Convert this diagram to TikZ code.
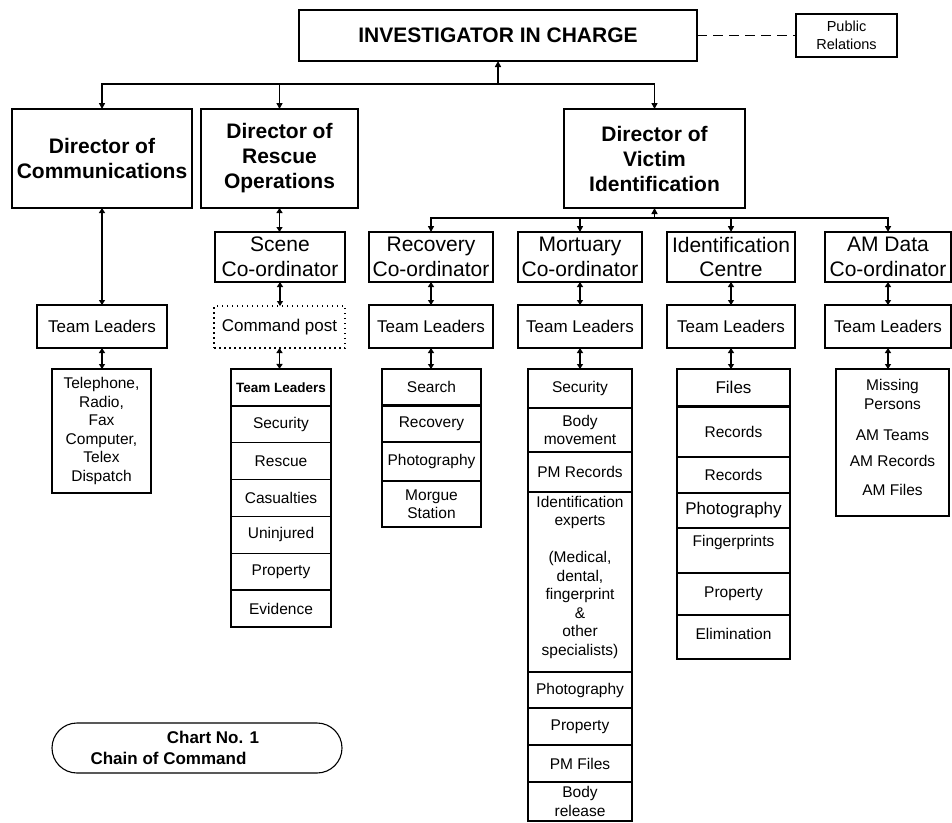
\documentclass[tikz,border=0pt]{standalone}
\usepackage{fontspec}
\setmainfont{Liberation Sans}
\usetikzlibrary{arrows.meta}
\tikzset{
 box/.style={draw,line width=1.5pt},
 sz/.style 2 args={minimum width=#1pt,minimum height=#2pt},
 fdir/.style={font=\fontsize{21}{25}\selectfont\bfseries},
 fco/.style={font=\fontsize{21}{24.5}\selectfont},
 ftl/.style={font=\fontsize{17}{20}\selectfont},
 flist/.style={font=\fontsize{15.5}{18.5}\selectfont},
 arr/.style={line width=1.5pt,-{Triangle[length=6pt,width=6pt]}},
 dbl/.style={line width=1.5pt,{Triangle[length=5pt,width=6pt]}-{Triangle[length=5pt,width=6pt]}},
}
\begin{document}
\begin{tikzpicture}[x=1pt,y=-1pt,
 every node/.style={inner sep=0pt,outer sep=0pt,align=center,font=\fontsize{15.5}{18.5}\selectfont}]
\useasboundingbox (0,0) rectangle (952,822);

% top
\node[box,sz={398}{51},fdir] (inv) at (498,35.5) {INVESTIGATOR IN CHARGE};
\node[box,sz={101}{43},font=\fontsize{14.5}{18}\selectfont] (pr) at (846.5,35.5) {Public\\Relations};
\draw[line width=1.5pt,dash pattern=on 10pt off 6pt] (inv.east) -- (pr.west);

% directors
\node[box,sz={180}{99},fdir] (dcomm) at (102,158.5) {Director of\\Communications};
\node[box,sz={157}{99},fdir] (dresc) at (279.5,158.5) {Director of\\Rescue\\Operations};
\node[box,sz={181}{99},fdir] (dvic) at (654.5,158.5) {Director of\\Victim\\Identification};

% coordinators
\node[box,sz={130}{50},fco] (scene) at (280,257) {Scene\\Co-ordinator};
\node[box,sz={124}{50},fco] (recov) at (431,257) {Recovery\\Co-ordinator};
\node[box,sz={124}{50},fco] (mort) at (580,257) {Mortuary\\Co-ordinator};
\node[box,sz={128}{50},fco] (idc) at (731,257) {Identification\\Centre};
\node[box,sz={126}{50},fco] (amd) at (888,257) {AM Data\\Co-ordinator};

% team leaders
\node[box,sz={130}{43},ftl] (tlc) at (102,326.5) {Team Leaders};
\node[draw,line width=1.5pt,dash pattern=on 1.5pt off 3.5pt,sz={131}{42},ftl] (cmd) at (279.5,327) {Command post};
\node[box,sz={124}{43},ftl] (tlr) at (431,326.5) {Team Leaders};
\node[box,sz={124}{43},ftl] (tlm) at (580,326.5) {Team Leaders};
\node[box,sz={128}{43},ftl] (tli) at (731,326.5) {Team Leaders};
\node[box,sz={126}{43},ftl] (tla) at (888,326.5) {Team Leaders};

% communications list
\node[box,sz={99}{124},flist] (tel) at (101.5,431) {Telephone,\\Radio,\\Fax\\Computer,\\Telex\\Dispatch};

% scene list
\node[box,sz={100}{36.86},font=\fontsize{13.5}{16}\selectfont\bfseries] (s1) at (281,387.4) {Team Leaders};
\node[box,sz={100}{36.86}] (s2) at (281,424.3) {Security};
\node[box,sz={100}{36.86}] (s3) at (281,461.1) {Rescue};
\node[box,sz={100}{36.86}] (s4) at (281,498) {Casualties};
\node[box,sz={100}{36.86}] (s5) at (281,534.9) {Uninjured};
\node[box,sz={100}{36.86}] (s6) at (281,571.7) {Property};
\node[box,sz={100}{36.86}] (s7) at (281,608.6) {Evidence};

% recovery list
\node[box,sz={99}{36}] (r1) at (431.5,387) {Search};
\node[box,sz={99}{37}] (r2) at (431.5,423.5) {Recovery};
\node[box,sz={99}{39}] (r3) at (431.5,461.5) {Photography};
\node[box,sz={99}{46}] (r4) at (431.5,504) {Morgue\\Station};
\draw[line width=3pt] (r1.south west) -- (r1.south east);

% mortuary list
\node[box,sz={104}{39}] (m1) at (580,388.5) {Security};
\node[box,sz={104}{44}] (m2) at (580,430) {Body\\movement};
\node[box,sz={104}{40}] (m3) at (580,472) {PM Records};
\node[box,sz={104}{180}] (m4) at (580,582) {};
\node (m4t) at (580,577) {Identification\\experts\\ \\(Medical,\\dental,\\fingerprint\\\&\\other\\specialists)};
\node[box,sz={104}{36}] (m5) at (580,690) {Photography};
\node[box,sz={104}{37}] (m6) at (580,726.5) {Property};
\node[box,sz={104}{37}] (m7) at (580,763.5) {PM Files};
\node[box,sz={104}{39}] (m8) at (580,801.5) {Body\\release};

% identification centre list
\node[box,sz={113}{37},ftl] (i1) at (733.5,387.5) {Files};
\node[box,sz={113}{51}] (i2) at (733.5,431.5) {Records};
\node[box,sz={113}{36}] (i3) at (733.5,475) {Records};
\node[box,sz={113}{35},ftl] (i4) at (733.5,510.5) {Photography};
\node[box,sz={113}{45}] (i5) at (733.5,550.5) {};
\node (i5t) at (733.5,542) {Fingerprints};
\node[box,sz={113}{42}] (i6) at (733.5,594) {Property};
\node[box,sz={113}{44}] (i7) at (733.5,637) {};
\node (i7t) at (733.5,634) {Elimination};
\draw[line width=3pt] (i1.south west) -- (i1.south east);

% AM list
\node[box,sz={113}{147}] (am) at (892.5,442.5) {};
\node (am1) at (892.5,394.5) {Missing\\Persons};
\node (am2) at (892.5,435) {AM Teams};
\node (am3) at (892.5,461) {AM Records};
\node (am4) at (892.5,490) {AM Files};

% chart label
\node[draw,line width=1.1pt,rounded corners=25pt,sz={290}{50}] (chart) at (197,748) {};
\node[font=\fontsize{17}{20}\selectfont\bfseries] (ch1) at (213,737) {Chart No. 1};
\node[font=\fontsize{17}{20}\selectfont\bfseries] (ch2) at (168.5,758) {Chain of Command};

% top bus
\coordinate (b0) at (498,84);
\draw[arr] (b0) -- (inv.south);
\draw[arr] (b0) -| (dcomm.north);
\draw[arr] (b0) -| (dresc.north);
\draw[arr] (b0) -| (dvic.north);

% victim bus
\coordinate (b1) at (654.5,218);
\draw[arr] (b1) -- (dvic.south);
\draw[arr] (b1) -| (recov.north);
\draw[arr] (b1) -| (mort.north);
\draw[arr] (b1) -| (idc.north);
\draw[arr] (b1) -| (amd.north);

% double arrows
\draw[dbl] (dcomm.south) -- (tlc.north);
\draw[dbl] (tlc.south) -- (tlc.south |- tel.north);
\draw[dbl] (dresc.south) -- (dresc.south |- scene.north);
\draw[dbl] (scene.south) -- (scene.south |- cmd.north);
\draw[dbl] (cmd.south) -- (cmd.south |- s1.north);
\draw[dbl] (recov.south) -- (tlr.north);
\draw[dbl] (tlr.south) -- (tlr.south |- r1.north);
\draw[dbl] (mort.south) -- (tlm.north);
\draw[dbl] (tlm.south) -- (tlm.south |- m1.north);
\draw[dbl] (idc.south) -- (tli.north);
\draw[dbl] (tli.south) -- (tli.south |- i1.north);
\draw[dbl] (amd.south) -- (tla.north);
\draw[dbl] (tla.south) -- (tla.south |- am.north);
\end{tikzpicture}
\end{document}
